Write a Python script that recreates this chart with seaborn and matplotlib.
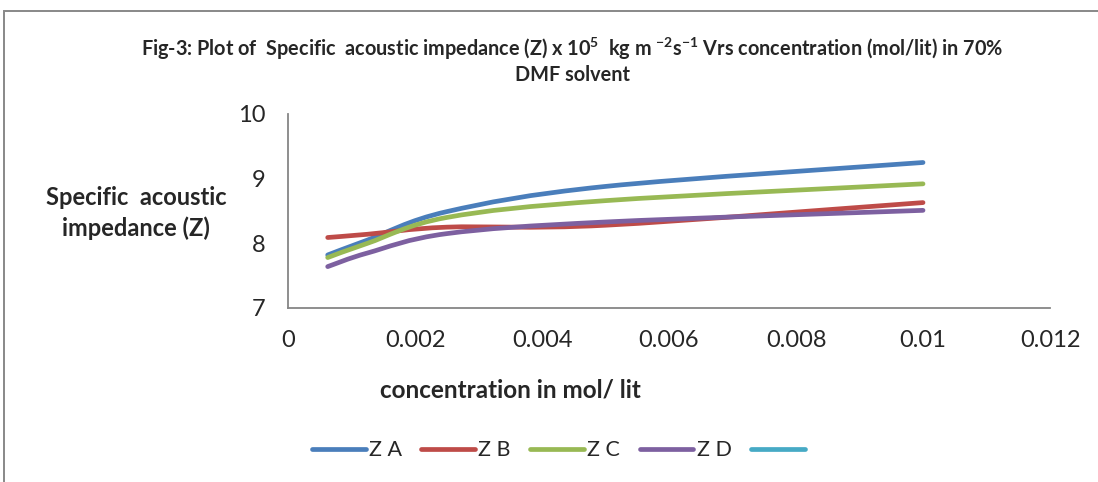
import numpy as np
import pandas as pd
import matplotlib
matplotlib.use('Agg')
import matplotlib.pyplot as plt
import seaborn as sns
from matplotlib.lines import Line2D
from matplotlib.patches import Rectangle, PathPatch
from matplotlib.path import Path

# concentration (mol/lit) and specific acoustic impedance values
conc = [0.000625, 0.00125, 0.0025, 0.005, 0.01]
z_a = [7.82, 8.05, 8.49, 8.88, 9.25]
z_b = [8.09, 8.14, 8.25, 8.28, 8.63]
z_c = [7.78, 8.00, 8.40, 8.66, 8.92]
z_d = [7.64, 7.85, 8.15, 8.33, 8.51]
series_names = ['Z A', 'Z B', 'Z C', 'Z D']
x_ticks = [0, 0.002, 0.004, 0.006, 0.008, 0.01, 0.012]
x_ticklabels = ['0', '0.002', '0.004', '0.006', '0.008', '0.01', '0.012']
y_ticks = [7, 8, 9, 10]

sns.set_style('white')
palette = sns.color_palette(['#4A7EBB', '#BE4B48', '#98B954', '#7D60A0', '#46AAC5'])
plt.rcParams['font.family'] = ['Lato', 'DejaVu Sans']
plt.rcParams['mathtext.fontset'] = 'custom'
plt.rcParams['mathtext.rm'] = 'Lato'
plt.rcParams['mathtext.bf'] = 'Lato:bold'

df = pd.DataFrame({
    'conc': conc * 4,
    'Z': z_a + z_b + z_c + z_d,
    'series': [s for s in series_names for _ in conc],
})


def smooth_path(xs, ys):
    # Excel-style smoothed line: cubic bezier through every data point
    p = np.column_stack([xs, ys])
    ext = np.vstack([p[0], p, p[-1]])
    verts = [p[0]]
    codes = [Path.MOVETO]
    for i in range(len(p) - 1):
        c1 = ext[i + 1] + (ext[i + 2] - ext[i]) / 6
        c2 = ext[i + 2] - (ext[i + 3] - ext[i + 1]) / 6
        verts += [c1, c2, ext[i + 2]]
        codes += [Path.CURVE4] * 3
    return Path(verts, codes)


fig = plt.figure(figsize=(10.98, 4.82), dpi=100)
ax = fig.add_axes([0.2623, 0.361, 0.694, 0.4025])

for name, col in zip(series_names, palette):
    sub = df[df['series'] == name]
    ax.add_patch(PathPatch(smooth_path(sub['conc'].values, sub['Z'].values),
                           fill=False, edgecolor=col, linewidth=3.4,
                           capstyle='round', joinstyle='round'))

ax.set_xlim(0, 0.012)
ax.set_ylim(7, 10)
ax.set_xticks(x_ticks)
ax.set_xticklabels(x_ticklabels)
ax.set_yticks(y_ticks)
ax.tick_params(axis='both', length=0, labelsize=17)
ax.tick_params(axis='x', pad=16)
ax.tick_params(axis='y', pad=16)
for s in ['top', 'right']:
    ax.spines[s].set_visible(False)
for s in ['left', 'bottom']:
    ax.spines[s].set_color('#868686')
    ax.spines[s].set_linewidth(1.3)

# outer chart frame
fig.patches.append(Rectangle((0.004, -0.05), 1.1, 1.027, transform=fig.transFigure,
                             fill=False, edgecolor='#888888', linewidth=1.4))

fig.text(0.521, 0.875,
         'Fig-3: Plot of  Specific  acoustic impedance (Z) x 10$^{\\mathbf{5}}$  kg m $^{\\mathbf{-2}}$s$^{\\mathbf{-1}}$ '
         'Vrs concentration (mol/lit) in 70%\nDMF solvent',
         ha='center', va='center', fontsize=14.3, fontweight='bold', linespacing=1.15)
fig.text(0.124, 0.558, 'Specific  acoustic\nimpedance (Z)', ha='center', va='center',
         fontsize=17, fontweight='bold', linespacing=1.35)
fig.text(0.465, 0.191, 'concentration in mol/ lit', ha='center', va='center',
         fontsize=17.5, fontweight='bold')

handles = [Line2D([0], [0], color=c, lw=3.4, solid_capstyle='round') for c in palette]
fig.legend(handles, series_names + [''], loc='center', bbox_to_anchor=(0.51, 0.066),
           ncol=5, frameon=False, fontsize=15.5, handlelength=2.5, handletextpad=0.15,
           columnspacing=0.9)

fig.savefig('out.png', dpi=100)
